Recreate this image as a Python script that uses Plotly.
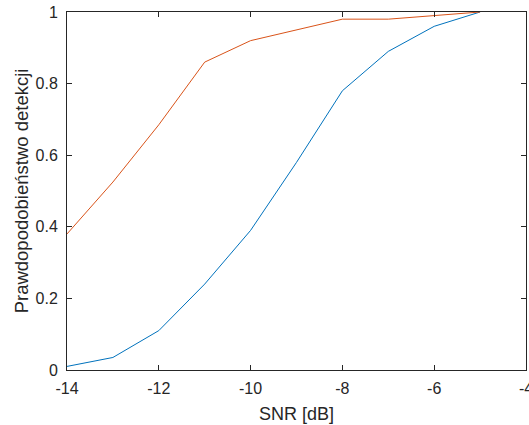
import plotly.graph_objects as go

snr = [-14, -13, -12, -11, -10, -9, -8, -7, -6, -5]
pd_blue = [0.01, 0.035, 0.11, 0.24, 0.39, 0.58, 0.78, 0.89, 0.96, 1.0]
pd_orange = [0.38, 0.525, 0.685, 0.86, 0.92, 0.95, 0.98, 0.98, 0.99, 1.0]

x_ticks = [-14, -12, -10, -8, -6, -4]
y_ticks = [0, 0.2, 0.4, 0.6, 0.8, 1]

FONT = "Liberation Sans, Arial"

fig = go.Figure()
fig.add_trace(go.Scatter(x=snr, y=pd_blue, mode="lines",
                         line=dict(color="#0072BD", width=1), showlegend=False))
fig.add_trace(go.Scatter(x=snr, y=pd_orange, mode="lines",
                         line=dict(color="#D95319", width=1), showlegend=False))

axis_common = dict(
    showgrid=False, zeroline=False, showline=True, linecolor="#262626", linewidth=1,
    mirror="ticks", ticks="inside", ticklen=5, tickcolor="#262626",
    tickfont=dict(family=FONT, size=16, color="#262626"),
)

fig.update_xaxes(range=[-14, -4], tickvals=x_ticks, ticktext=[str(v) for v in x_ticks],
                 ticklabeloverflow="allow", ticklabelstandoff=4,
                 title=dict(text="SNR [dB]", font=dict(family=FONT, size=18, color="#262626"),
                            standoff=11),
                 **axis_common)
fig.update_yaxes(range=[0, 1], tickvals=y_ticks, ticktext=["0", "0.2", "0.4", "0.6", "0.8", "1"],
                 ticklabelstandoff=5,
                 title=dict(text="Prawdopodobieństwo detekcji",
                            font=dict(family=FONT, size=18.5, color="#262626"),
                            standoff=2),
                 **axis_common)

fig.update_layout(
    width=529, height=425,
    margin=dict(l=66.5, r=2.5, t=11.5, b=55, autoexpand=False),
    plot_bgcolor="white", paper_bgcolor="white",
)

# drop the default 8px body margin so the figure fills the window
fig.write_html("out.html", config={"displayModeBar": False},
               post_script="document.body.style.margin='0';")
